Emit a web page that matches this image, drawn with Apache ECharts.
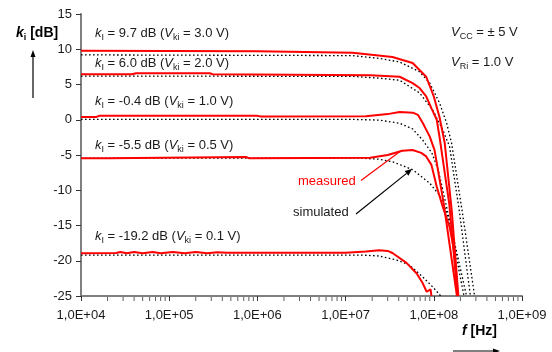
<!DOCTYPE html>
<html><head><meta charset="utf-8">
<script src="https://cdn.jsdelivr.net/npm/echarts@6/dist/echarts.min.js"></script>
<style>html,body{margin:0;padding:0;background:#fff}#c{width:552px;height:352px}</style>
</head><body><div id="c"></div>
<script>
// ---- tick labels ----
const xTickLabels = {4:'1,0E+04',5:'1,0E+05',6:'1,0E+06',7:'1,0E+07',8:'1,0E+08',9:'1,0E+09'};
const xMinorTicks = [2e4,3e4,4e4,5e4,6e4,7e4,8e4,9e4,
  2e5,3e5,4e5,5e5,6e5,7e5,8e5,9e5,
  2e6,3e6,4e6,5e6,6e6,7e6,8e6,9e6,
  2e7,3e7,4e7,5e7,6e7,7e7,8e7,9e7,
  2e8,3e8,4e8,5e8,6e8,7e8,8e8,9e8];
const yMin = -25, yMax = 15, yStep = 5;

// ---- measured (red) ----
const meas30 = [[1e4,9.8],[1e6,9.7],[1.2e7,9.5],[3.4e7,8.9],[5.75e7,8.05],[8.2e7,6.1],[1e8,3.3],[1.16e8,0.4],[1.33e8,-3.3],[1.6e8,-13],[1.9e8,-25]];
const meas20 = [[1e4,6.45],[3.8e4,6.45],[4.2e4,6.6],[2.9e5,6.6],[3.1e5,6.45],[1.9e7,6.3],[4.1e7,6.1],[5.75e7,5.2],[6.9e7,4.5],[8.2e7,3.3],[9.5e7,1.5],[1.08e8,0.0],[1.16e8,-2.4],[1.5e8,-12],[1.86e8,-25]];
const meas10 = [[1e4,0.4],[1.5e4,0.4],[1.6e4,0.55],[1e6,0.55],[1.1e6,0.45],[1.7e7,0.5],[3e7,0.8],[4.1e7,1.1],[5.8e7,1.0],[6.6e7,0.7],[7.5e7,-0.46],[9e7,-2.4],[1.02e8,-4.3],[1.3e8,-12],[1.83e8,-25]];
const meas05 = [[1e4,-5.45],[2e4,-5.45],[2.1e4,-5.3],[7.5e5,-5.3],[8e5,-5.45],[1.9e7,-5.4],[3e7,-5.0],[4.4e7,-4.4],[5.75e7,-4.3],[7.2e7,-4.7],[8.2e7,-5.2],[9.4e7,-6.4],[1.08e8,-9.5],[1.26e8,-12.3],[1.51e8,-15.2],[1.72e8,-18.9],[1.86e8,-24.6],[1.88e8,-25]];
const meas01 = [[1e4,-18.95],[2.5e4,-18.9],[2.8e4,-18.75],[3.3e4,-18.95],[4e4,-18.75],[5e4,-18.95],[6.5e4,-18.75],[8e4,-18.95],[1.1e5,-18.75],[1.5e5,-18.95],[2e5,-18.75],[2.7e5,-18.95],[3.5e5,-18.8],[4.5e5,-18.85],[1e7,-18.85],[1.7e7,-18.7],[2.4e7,-18.5],[3e7,-18.6],[3.4e7,-18.9],[4.9e7,-20.3],[6.4e7,-21.8],[7.5e7,-23.2],[8.3e7,-24.4],[8.6e7,-24.6],[9.2e7,-24.05],[9.4e7,-25]];

// ---- simulated (black dotted) ----
const sim30 = [[1e4,9.2],[1.2e7,9.1],[2.4e7,8.7],[4.1e7,8.2],[6.9e7,6.8],[9e7,5.2],[1.16e8,2.4],[1.4e8,-0.5],[1.59e8,-3.3],[2.1e8,-13],[2.9e8,-25]];
const sim20 = [[1e4,6.2],[1.2e7,6.15],[2.4e7,5.9],[4.1e7,5.6],[6.9e7,3.8],[9.7e7,1.4],[1.26e8,-1.4],[1.51e8,-3.8],[1.95e8,-13],[2.6e8,-25]];
const sim10 = [[1e4,0.05],[1.2e7,0.05],[2.4e7,-0.05],[4.1e7,-0.5],[5.75e7,-1.3],[7.5e7,-2.9],[9.5e7,-4.7],[1.12e8,-7.1],[1.24e8,-9.5],[2.35e8,-25]];
const sim05 = [[1e4,-5.45],[1.5e7,-5.45],[2.4e7,-5.6],[3.4e7,-5.95],[5.8e7,-7.1],[9e7,-9.0],[1.16e8,-10.7],[1.37e8,-12.8],[1.57e8,-15.2],[1.75e8,-18.2],[1.95e8,-21.7],[2.2e8,-25]];
const sim01 = [[1e4,-19.2],[1.57e7,-19.2],[2.4e7,-19.33],[3.8e7,-19.9],[5.3e7,-20.6],[7.5e7,-22.3],[9.7e7,-23.7],[1.2e8,-25]];

const measured = [meas30, meas20, meas10, meas05, meas01];
const simulated = [sim30, sim20, sim10, sim05, sim01];

const FONT = 'Liberation Sans, Arial, sans-serif';
const TXT = '#1a1a1a';
const chart = echarts.init(document.getElementById('c'), null, {renderer:'canvas'});

const series = [];
simulated.forEach(d => series.push({type:'line', data:d, symbol:'none', silent:true, animation:false,
  lineStyle:{color:'#000', width:1.3, type:[1.6,2.4]}, z:2}));
measured.forEach(d => series.push({type:'line', data:d, symbol:'none', silent:true, animation:false,
  lineStyle:{color:'#ff0000', width:2}, z:3}));
// minor ticks of the log axis, placed through the axis scale
series.push({type:'scatter', data:xMinorTicks.map(v => [v, yMin]), symbol:'rect', symbolSize:[1,4],
  symbolOffset:[0,3], clip:false, silent:true, itemStyle:{color:'#333'}, z:1});

const sub = {fontSize:9, verticalAlign:'bottom', lineHeight:18, fill:TXT, fontFamily:FONT};
const it = {fontStyle:'italic', fontSize:13, lineHeight:18, fill:TXT, fontFamily:FONT};
const rich = {i:it, s:sub, n:{fontSize:13, lineHeight:18, fill:TXT, fontFamily:FONT}};
function ann(x, y, str){
  return {type:'text', x:x, y:y, silent:true, style:{text:str, rich:rich, fontSize:13, fontFamily:FONT, fill:TXT, verticalAlign:'middle'}};
}
function arrow(x1,y1,x2,y2,color,w,hl,hw){
  const dx=x2-x1, dy=y2-y1, L=Math.hypot(dx,dy), ux=dx/L, uy=dy/L;
  const bx=x2-ux*hl, by=y2-uy*hl, px=-uy, py=ux;
  return [
    {type:'line', silent:true, shape:{x1:x1,y1:y1,x2:bx,y2:by}, style:{stroke:color, lineWidth:w}},
    {type:'polygon', silent:true, shape:{points:[[x2,y2],[bx+px*hw,by+py*hw],[bx-px*hw,by-py*hw]]}, style:{fill:color}}
  ];
}

const graphics = [
  ann(95, 33, '{i|k}{s|I}{n| = 9.7 dB (}{i|V}{s|ki}{n| = 3.0 V)}'),
  ann(95, 63, '{i|k}{s|I}{n| = 6.0 dB (}{i|V}{s|ki}{n| = 2.0 V)}'),
  ann(95, 101.5, '{i|k}{s|I}{n| = -0.4 dB (}{i|V}{s|ki}{n| = 1.0 V)}'),
  ann(95, 145, '{i|k}{s|I}{n| = -5.5 dB (}{i|V}{s|ki}{n| = 0.5 V)}'),
  ann(95, 236.5, '{i|k}{s|I}{n| = -19.2 dB (}{i|V}{s|ki}{n| = 0.1 V)}'),
  ann(451, 32.5, '{i|V}{s|CC}{n| = ± 5 V}'),
  ann(451, 62.5, '{i|V}{s|Ri}{n| = 1.0 V}'),
  {type:'text', x:298, y:181, silent:true, style:{text:'measured', fontSize:13, fontFamily:FONT, fill:'#ff0000', verticalAlign:'middle'}},
  {type:'text', x:293, y:212, silent:true, style:{text:'simulated', fontSize:13, fontFamily:FONT, fill:TXT, verticalAlign:'middle'}},
  {type:'line', silent:true, shape:{x1:361,y1:180.5,x2:400,y2:151.5}, style:{stroke:'#ff0000', lineWidth:1.2}},
  ...arrow(356,214,412,169,'#000',1.2,7,3),
  // y axis title
  {type:'text', x:16, y:33, silent:true, style:{
    text:'{k|k}{s|i}{n| [dB]}', verticalAlign:'middle',
    rich:{k:{fontSize:14, fontWeight:'bold', fontStyle:'italic', fontFamily:FONT, fill:'#000', lineHeight:18},
          s:{fontSize:9, fontWeight:'bold', fontFamily:FONT, fill:'#000', verticalAlign:'bottom', lineHeight:18},
          n:{fontSize:14, fontWeight:'bold', fontFamily:FONT, fill:'#000', lineHeight:18}}}},
  ...arrow(33,98,33,50,'#000',1.2,7,2.5),
  // x axis title
  {type:'text', x:462, y:331, silent:true, style:{
    text:'{k|f}{n| [Hz]}', verticalAlign:'middle',
    rich:{k:{fontSize:14, fontWeight:'bold', fontStyle:'italic', fontFamily:FONT, fill:'#000'},
          n:{fontSize:14, fontWeight:'bold', fontFamily:FONT, fill:'#000'}}}},
  ...arrow(453,351,500,351,'#000',1.2,7,2.5)
];

chart.setOption({
  animation:false,
  backgroundColor:'#fff',
  grid:{left:81, right:30, top:14, bottom:56, containLabel:false},
  xAxis:{
    type:'log', logBase:10, min:1e4, max:1e9,
    axisLine:{onZero:false, lineStyle:{color:'#808080', width:2}},
    axisTick:{show:true, length:5, inside:false, lineStyle:{color:'#333', width:1}},
    minorTick:{show:false},
    splitLine:{show:false},
    axisLabel:{margin:13, fontSize:13, fontFamily:FONT, color:TXT,
      formatter:(v)=>xTickLabels[Math.round(Math.log10(v))] || ''}
  },
  yAxis:{
    type:'value', min:yMin, max:yMax, interval:yStep,
    axisLine:{show:true, onZero:false, lineStyle:{color:'#808080', width:2}},
    axisTick:{show:true, length:5, lineStyle:{color:'#333', width:1}},
    splitLine:{show:false},
    axisLabel:{margin:9, fontSize:13, fontFamily:FONT, color:TXT}
  },
  series: series,
  graphic: graphics
});
</script>
</body></html>
